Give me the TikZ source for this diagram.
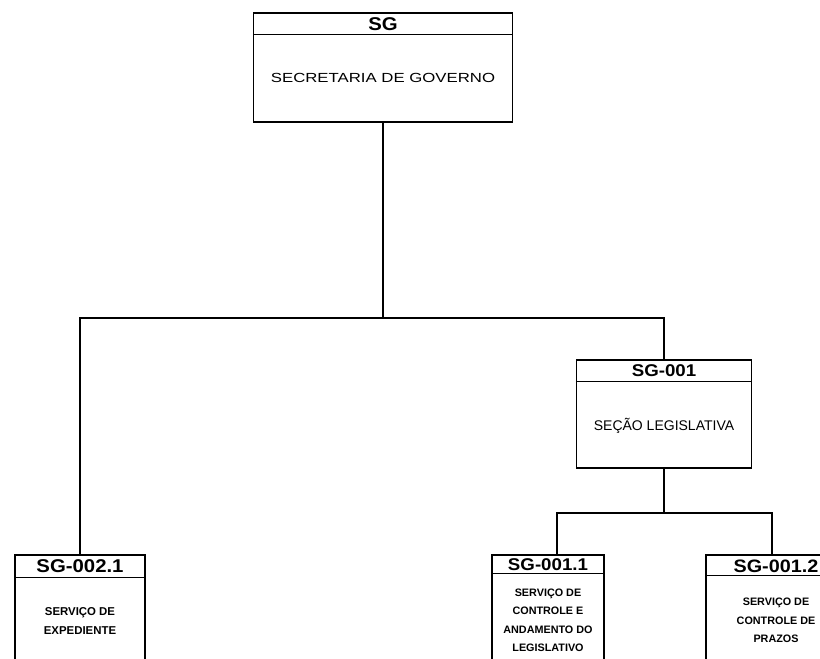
\documentclass[tikz,border=0pt]{standalone}
\usepackage{fontspec}
\setmainfont{Liberation Sans}
\newfontfamily\widefont[FakeStretch=1.27]{Liberation Sans}
\newfontfamily\hdfont[FakeStretch=1.1]{Liberation Sans}
\tikzset{
  unit/.style={draw=black, line width=1.4pt, fill=white, inner sep=0pt},
  link/.style={draw=black, line width=1.4pt},
  divider/.style={draw=black, line width=1.3pt},
  code/.style={font=\hdfont\bfseries\fontsize{17}{18}\selectfont, inner sep=0pt},
  title/.style={font=\fontsize{14}{16}\selectfont, inner sep=0pt, align=center},
  small/.style={font=\bfseries\fontsize{10.8}{18.5}\selectfont, inner sep=0pt, align=center}
}
\begin{document}
\begin{tikzpicture}[x=1pt,y=-1pt]
\useasboundingbox (0,0) rectangle (820,659);
\fill[white] (0,0) rectangle (820,659);
\clip (0,0) rectangle (820,659);

% bus lines
\coordinate (bus1) at (0,318);
\coordinate (bus2) at (0,513);

% top unit
\node[unit, minimum width=259pt, minimum height=109pt] (sg) at (383,67.5) {};
\draw[divider] (sg.north west) ++(0,22) -- ++(259,0);
\node[code, font=\hdfont\bfseries\fontsize{18.5}{19}\selectfont] (sgc) at (383,24) {SG};
\node[title] (sgt) at (383,78) {\widefont\fontsize{13.2}{15}\selectfont SECRETARIA DE GOVERNO};

% SG-001
\node[unit, minimum width=175pt, minimum height=108pt] (s001) at (664,414) {};
\draw[divider] (s001.north west) ++(0,22) -- ++(175,0);
\node[code] (s001c) at (664,371) {SG-001};
\node[title] (s001t) at (664,426) {SEÇÃO LEGISLATIVA};

% SG-002.1
\node[unit, minimum width=130pt, minimum height=112pt] (s002) at (80,611) {};
\draw[divider] (s002.north west) ++(0,23) -- ++(130,0);
\node[code, font=\hdfont\bfseries\fontsize{18.5}{19}\selectfont] (s002c) at (80,566.5) {SG-002.1};
\node[small, font=\bfseries\fontsize{11.4}{18.5}\selectfont] (s002t) at (80,621) {SERVIÇO DE\\EXPEDIENTE};

% SG-001.1
\node[unit, minimum width=112pt, minimum height=112pt] (s011) at (548,611) {};
\draw[divider] (s011.north west) ++(0,19) -- ++(112,0);
\node[code] (s011c) at (548,565) {SG-001.1};
\node[small] (s011t) at (548,620.5) {SERVIÇO DE\\CONTROLE E\\ANDAMENTO DO\\LEGISLATIVO};

% SG-001.2
\node[unit, minimum width=140pt, minimum height=112pt] (s012) at (776,611) {};
\draw[divider] (s012.north west) ++(0,21) -- ++(140,0);
\node[code, font=\hdfont\bfseries\fontsize{18}{19}\selectfont] (s012c) at (776,566) {SG-001.2};
\node[small] (s012t) at (776,620.5) {SERVIÇO DE\\CONTROLE DE\\PRAZOS};

% connectors
\coordinate (t11) at (557,555);
\coordinate (t12) at (772,555);
\draw[link] (sg.south) -- (sg.south |- bus1);
\draw[link] (s002.north) -- (s002.north |- bus1) -- (s001.north |- bus1) -- (s001.north);
\draw[link] (s001.south) -- (s001.south |- bus2);
\draw[link] (t11) -- (t11 |- bus2) -- (t12 |- bus2) -- (t12);
\end{tikzpicture}
\end{document}
